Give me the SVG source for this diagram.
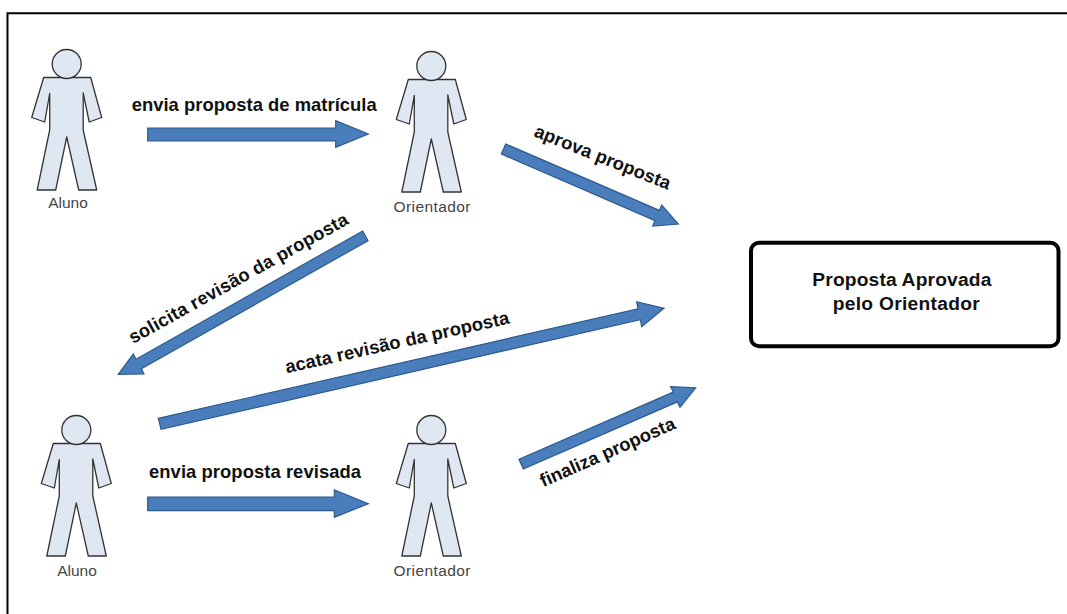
<svg xmlns="http://www.w3.org/2000/svg" width="1067" height="614" viewBox="0 0 1067 614">
<style>
text{font-family:"Liberation Sans",Arial,sans-serif}
.who{font-size:15.5px;fill:#444;text-anchor:middle}
.lbl{font-size:18.4px;font-weight:bold;fill:#111}
.box{font-size:19.2px}
.arr{fill:#4a7dbb;stroke:#2d5a8c;stroke-width:1.2;stroke-linejoin:miter}
.body{fill:#dfe7f3;stroke:#333;stroke-width:1.3;stroke-linejoin:round}
</style>
<defs>
<g id="person">
<path class="body" d="M-23 13.5L24 13.5L35 53.5L22.5 58L16.5 29L16.5 66L30 126L12 126L0 73L-11 126L-29.5 126L-17 66L-17 29.5L-22 58L-35 53.5Z"/>
<circle class="body" cx="0" cy="0" r="14.5"/>
</g>
</defs>
<rect width="1067" height="614" fill="#fff"/>
<path id="frame" d="M7.5 614V13.3H1067" fill="none" stroke="#000" stroke-width="2"/>
<g id="aluno1"><use href="#person" x="66.7" y="64"/><text class="who" x="68" y="208">Aluno</text></g>
<g id="orientador1"><use href="#person" x="431.3" y="66"/><text class="who" x="432" y="212" textLength="77">Orientador</text></g>
<g id="aluno2"><use href="#person" x="76.3" y="430"/><text class="who" x="77" y="576">Aluno</text></g>
<g id="orientador2"><use href="#person" x="431.3" y="430"/><text class="who" x="432" y="576" textLength="77">Orientador</text></g>
<g id="proposta">
<rect x="751" y="242.7" width="307.5" height="103.5" rx="8" fill="#fff" stroke="#000" stroke-width="4"/>
<text class="lbl box" x="812.3" y="286" textLength="179">Proposta Aprovada</text>
<text class="lbl box" x="832.7" y="310" textLength="147">pelo Orientador</text>
</g>
<g id="connectors">
<polygon class="arr" points="147.7,128 335.7,128 335.7,120.7 368.3,134 335.7,147.3 335.7,141 147.7,141"/>
<polygon class="arr" points="147.7,497 334.3,497 334.3,490 368.3,503.7 334.3,517.3 334.3,510.7 147.7,510.7"/>
<polygon class="arr" points="505.7,144 659.4,210.4 661.7,205 678.3,224 652.7,226 655,220.6 501.3,154"/>
<polygon class="arr" points="362.7,231 368,240.7 141.4,368.8 144,374 118.3,374.3 133.3,354 136,359.2"/>
<polygon class="arr" points="158.3,418.3 638,308.8 636.7,301.7 664,308.3 641.7,326.7 640.4,319.6 161,429.3"/>
<polygon class="arr" points="519,459.3 673.2,392.1 670.7,386.7 695.7,387.7 680,407.3 677.4,401.9 523.3,469"/>
</g>
<g id="labels">
<text class="lbl" x="131.7" y="110.7" textLength="245">envia proposta de matrícula</text>
<text class="lbl" x="149" y="478" textLength="212">envia proposta revisada</text>
<text class="lbl" transform="translate(533 136) rotate(21.8)" textLength="145">aprova proposta</text>
<text class="lbl" transform="translate(133 344) rotate(-29.1)" textLength="248">solicita revisão da proposta</text>
<text class="lbl" transform="translate(286.7 373.3) rotate(-12.6)" textLength="229">acata revisão da proposta</text>
<text class="lbl" transform="translate(543.3 487.3) rotate(-23.9)" textLength="146">finaliza proposta</text>
</g>
</svg>
